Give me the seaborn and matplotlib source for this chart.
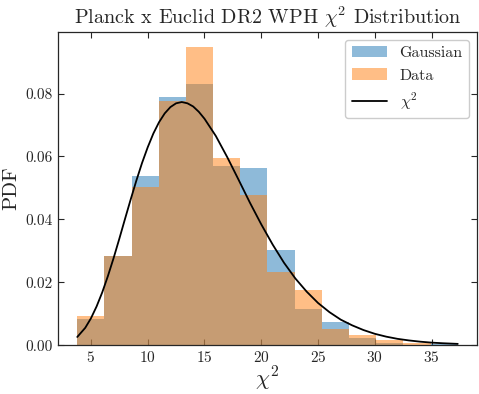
import numpy as np
import pandas as pd
import seaborn as sns
import matplotlib.pyplot as plt

# bin edges shared by both histograms
bin_edges = [3.8, 6.19, 8.58, 10.97, 13.37, 15.76, 18.15, 20.54,
             22.94, 25.33, 27.72, 30.11, 32.51, 34.90, 37.3]
gaussian_pdf = [0.0083, 0.0285, 0.0537, 0.0788, 0.0831, 0.0569, 0.0562,
                0.0302, 0.0116, 0.0074, 0.0024, 0.0008, 0.0, 0.0005]
data_pdf = [0.0092, 0.0285, 0.0503, 0.0775, 0.0949, 0.0596, 0.0477,
            0.0234, 0.0175, 0.0050, 0.0032, 0.0016, 0.0007, 0.0]

# chi^2 curve
curve_x = [3.8, 4.5, 5, 5.5, 6, 6.5, 7, 7.5, 8, 8.5, 9, 9.5, 10, 10.5, 11,
           11.5, 12, 12.5, 13, 13.5, 14, 14.5, 15, 16, 17, 18, 19, 20, 21,
           22, 23, 24, 25, 26, 27, 28, 29, 30, 31, 32, 33, 34, 35, 36, 37.3]
curve_y = [0.0026, 0.0055, 0.0085, 0.0123, 0.0168, 0.0220, 0.0277, 0.0338,
           0.0401, 0.0463, 0.0523, 0.0579, 0.0629, 0.0673, 0.0709, 0.0737,
           0.0757, 0.0769, 0.0773, 0.0769, 0.0759, 0.0742, 0.0720, 0.0665,
           0.0598, 0.0526, 0.0453, 0.0384, 0.0320, 0.0262, 0.0212, 0.0170,
           0.0134, 0.0105, 0.0081, 0.0063, 0.0048, 0.0036, 0.0027, 0.0020,
           0.0015, 0.0011, 0.0008, 0.0006, 0.0004]

sns.set_style("ticks")
plt.rcParams['font.family'] = 'serif'
plt.rcParams['font.serif'] = ['cmr10']
plt.rcParams['mathtext.fontset'] = 'cm'
plt.rcParams['axes.formatter.use_mathtext'] = True
plt.rcParams['axes.unicode_minus'] = False

centers = [(a + b) / 2 for a, b in zip(bin_edges[:-1], bin_edges[1:])]
df = pd.DataFrame({'center': centers, 'gauss': gaussian_pdf, 'data': data_pdf})

fig, ax = plt.subplots(figsize=(4.79, 3.94), dpi=100)
fig.subplots_adjust(left=0.121, right=0.996, top=0.919, bottom=0.124)

sns.histplot(data=df, x='center', weights='gauss', bins=bin_edges, stat='count',
             color='#1f77b4', alpha=0.5, linewidth=0, label='Gaussian', ax=ax)
sns.histplot(data=df, x='center', weights='data', bins=bin_edges, stat='count',
             color='#ff7f0e', alpha=0.5, linewidth=0, label='Data', ax=ax)
sns.lineplot(x=curve_x, y=curve_y, color='black', linewidth=1.3,
             label=r'$\chi^2$', ax=ax, sort=False)

ax.set_xlim(2.1, 39.0)
ax.set_ylim(0, 0.0996)
ax.set_xticks([5, 10, 15, 20, 25, 30, 35])
ax.set_yticks([0.0, 0.02, 0.04, 0.06, 0.08])
ax.set_yticklabels(['0.00', '0.02', '0.04', '0.06', '0.08'])
ax.tick_params(direction='in', top=True, right=True, labelsize=11, length=4)
for s in ax.spines.values():
    s.set_linewidth(0.9)

ax.set_xlabel(r'$\chi^2$', fontsize=16, labelpad=0)
ax.set_ylabel('PDF', fontsize=15)
ax.set_title(r'Planck x Euclid DR2 WPH $\chi^2$ Distribution', fontsize=14.5)

handles, labels = ax.get_legend_handles_labels()
order = [labels.index('Gaussian'), labels.index('Data'), labels.index(r'$\chi^2$')]
ax.legend([handles[i] for i in order], [labels[i] for i in order],
          loc='upper right', fontsize=11.5, handlelength=2.2, framealpha=1,
          edgecolor='#cccccc')

fig.savefig('out.png', dpi=100)
